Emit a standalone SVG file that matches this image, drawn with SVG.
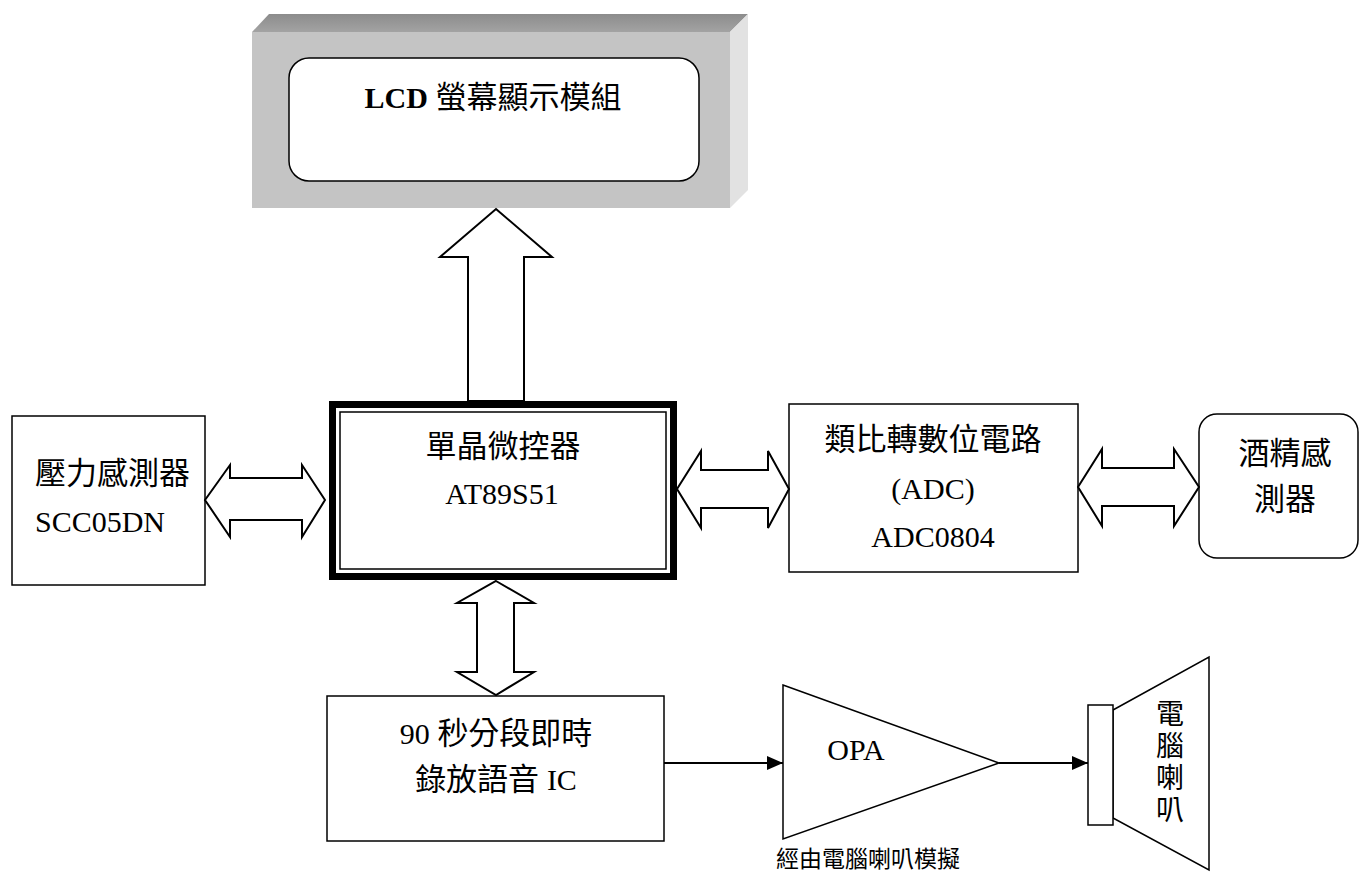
<svg xmlns="http://www.w3.org/2000/svg" width="1360" height="872" viewBox="0 0 1360 872">
<style>
.t{font-family:"Liberation Serif","Noto Sans CJK TC",serif;font-size:31px;fill:#000}
.l{font-family:"Liberation Serif",serif;font-size:30px;fill:#000}
.box{fill:#fff;stroke:#000;stroke-width:1.5}
.barrow{fill:#fff;stroke:#000;stroke-width:2;stroke-linejoin:miter}
.ln{stroke:#000;stroke-width:2;fill:none}
</style>
<defs>
<linearGradient id="topg" x1="0" y1="0" x2="0" y2="1">
<stop offset="0" stop-color="#8c8c8c"/><stop offset="1" stop-color="#a3a3a3"/>
</linearGradient>
<marker id="ah" markerWidth="16" markerHeight="14" refX="16" refY="7" orient="auto" markerUnits="userSpaceOnUse">
<path d="M0,0 L16,7 L0,14 Z" fill="#000"/>
</marker>
</defs>
<rect width="1360" height="872" fill="#fff"/>

<g id="lcd">
<polygon points="252,32 269,14 748,14 730,32" fill="url(#topg)"/>
<rect x="252" y="32" width="478" height="176" fill="#c4c4c4"/>
<polygon points="730,32 748,14 748,190 730,208" fill="#e2e2e2"/>
<rect x="289" y="58" width="410" height="123" rx="20" class="box"/>
<text class="t" x="493" y="108" text-anchor="middle"><tspan class="l" font-weight="bold">LCD</tspan> 螢幕顯示模組</text>
</g>

<g id="mcu">
<rect x="332.5" y="404.5" width="341" height="172" fill="#fff" stroke="#000" stroke-width="7"/>
<rect x="340" y="412" width="326" height="157" fill="none" stroke="#000" stroke-width="1.5"/>
<text class="t" x="503" y="457" text-anchor="middle">單晶微控器</text>
<text class="l" x="502" y="504" text-anchor="middle">AT89S51</text>
</g>

<g id="pressure">
<rect x="12" y="416" width="193" height="169" class="box"/>
<text class="t" x="35" y="484">壓力感測器</text>
<text class="l" x="35" y="532">SCC05DN</text>
</g>

<g id="adc">
<rect x="789" y="404" width="289" height="168" class="box"/>
<text class="t" x="933" y="450" text-anchor="middle">類比轉數位電路</text>
<text class="l" x="933" y="499" text-anchor="middle">(ADC)</text>
<text class="l" x="933" y="547" text-anchor="middle">ADC0804</text>
</g>

<g id="alcohol">
<rect x="1199" y="414" width="159" height="144" rx="18" class="box"/>
<text class="t" x="1285" y="464" text-anchor="middle">酒精感</text>
<text class="t" x="1285" y="510" text-anchor="middle">測器</text>
</g>

<g id="voice">
<rect x="327" y="696" width="337" height="145" class="box"/>
<text class="t" x="496" y="744" text-anchor="middle"><tspan class="l">90</tspan> 秒分段即時</text>
<text class="t" x="496" y="790" text-anchor="middle">錄放語音 <tspan class="l">IC</tspan></text>
</g>

<g id="opa">
<polygon points="783,685 999,763 783,839" class="box"/>
<text class="l" x="856" y="760" text-anchor="middle">OPA</text>
<text x="868" y="867" text-anchor="middle" style="font-family:'Noto Sans CJK TC',sans-serif;font-size:23px">經由電腦喇叭模擬</text>
</g>

<g id="speaker">
<polygon points="1113,710 1209,657 1209,870 1113,818" class="box"/>
<rect x="1088" y="705" width="25" height="120" class="box"/>
<text x="1170" y="699" writing-mode="vertical-rl" letter-spacing="4" style="font-family:'Noto Sans CJK TC',sans-serif;font-size:28px">電腦喇叭</text>
</g>

<g id="connectors">
<polygon class="barrow" points="496,209 552,257 524,257 524,401 468,401 468,257 440,257"/>
<polygon class="barrow" points="205,500 230,465 230,478 302,478 302,465 325,500 302,537 302,520 230,520 230,537"/>
<polygon class="barrow" points="677,489 701,451 701,470 768,470 768,451 789,489 768,528 768,508 701,508 701,528"/>
<polygon class="barrow" points="1078,487 1102,449 1102,468 1174,468 1174,449 1199,487 1174,526 1174,506 1102,506 1102,526"/>
<polygon class="barrow" points="496,581 534,603 514,603 514,672 534,672 496,695 457,672 477,672 477,603 457,603"/>
<line class="ln" x1="664" y1="763" x2="783" y2="763" marker-end="url(#ah)"/>
<line class="ln" x1="999" y1="763" x2="1088" y2="763" marker-end="url(#ah)"/>
</g>
</svg>
